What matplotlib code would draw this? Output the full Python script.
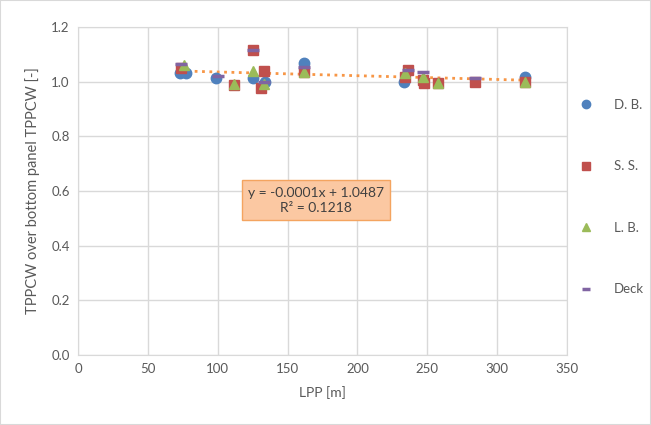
import matplotlib
matplotlib.use("Agg")
import matplotlib.pyplot as plt
import numpy as np

# ---- data ----
db_x = [73, 77, 99, 125, 134, 162, 233, 320]
db_y = [1.03, 1.03, 1.012, 1.015, 0.997, 1.07, 0.997, 1.016]

ss_x = [74, 112, 125, 131, 133, 162, 234, 236, 247, 248, 258, 284, 320]
ss_y = [1.05, 0.988, 1.116, 0.978, 1.039, 1.037, 1.018, 1.042, 1.005, 0.995, 0.994, 1.0, 1.0]

lb_x = [76, 112, 125, 133, 162, 234, 247, 258, 320]
lb_y = [1.062, 0.99, 1.038, 0.99, 1.035, 1.03, 1.018, 0.996, 1.0]

deck_x = [74, 100, 125, 133, 162, 236, 247, 284]
deck_y = [1.065, 1.02, 1.116, 1.0, 1.055, 1.043, 1.037, 1.012]

x_ticks = [0, 50, 100, 150, 200, 250, 300, 350]
y_ticks = [0.0, 0.2, 0.4, 0.6, 0.8, 1.0, 1.2]
eq_text = "y = -0.0001x + 1.0487\nR\u00b2 = 0.1218"

plt.rcParams['font.family'] = ['Lato', 'DejaVu Sans']

fig = plt.figure(figsize=(6.51, 4.25), dpi=100)
ax = fig.add_axes([78/651, 1-355/425, (567-78)/651, (355-27)/425])

grid_c = '#d9d9d9'
ax.set_xlim(0, 350)
ax.set_ylim(0, 1.2)
ax.set_xticks(x_ticks)
ax.set_yticks(y_ticks)
ax.set_yticklabels([f"{v:.1f}" for v in y_ticks])
ax.grid(True, color=grid_c, linewidth=1)
ax.set_axisbelow(True)
for s in ax.spines.values():
    s.set_color(grid_c)
ax.tick_params(length=0, labelsize=9.5, colors='#595959', pad=6)

ax.set_xlabel("LPP [m]", fontsize=10, color='#595959', labelpad=8)
ax.set_ylabel("TPPCW over bottom panel TPPCW [-]", fontsize=10.5, color='#595959', labelpad=8)

h1, = ax.plot(db_x, db_y, 'o', color='#4F81BD', ms=7.5, label='D. B.', zorder=3)
h2, = ax.plot(ss_x, ss_y, 's', color='#C0504D', ms=7, label='S. S.', zorder=4)
h3, = ax.plot(lb_x, lb_y, '^', color='#9BBB59', ms=7.5, label='L. B.', zorder=5)
h4, = ax.plot(deck_x, deck_y, '_', color='#8064A2', ms=8, mew=2.5, label='Deck', zorder=6)

# trendline fit over all points
all_x = np.array(db_x + ss_x + lb_x + deck_x, dtype=float)
all_y = np.array(db_y + ss_y + lb_y + deck_y, dtype=float)
k, b = np.polyfit(all_x, all_y, 1)
tx = np.linspace(all_x.min(), all_x.max(), 50)
ax.plot(tx, k*tx + b, ':', color='#F79646', lw=2, zorder=2)

ax.text(170.5, 0.567, eq_text, ha='center', va='center', fontsize=10, color='#404040',
        linespacing=1.3,
        bbox=dict(boxstyle='square,pad=0.45', facecolor='#FBC8A2', edgecolor='#F4A460', lw=1),
        zorder=7)

fig.legend(handles=[h1, h2, h3, h4], loc='upper left', bbox_to_anchor=(566/651, 1-87/425),
           frameon=False, fontsize=9.5, labelspacing=3.75, handlelength=1.2,
           handletextpad=1.5, markerscale=0.8, labelcolor='#595959')

fig.patches.append(plt.Rectangle((0, 0), 1, 1, transform=fig.transFigure, fill=False,
                                 edgecolor='#d9d9d9', lw=1.5))
fig.savefig("out.png", dpi=100)
